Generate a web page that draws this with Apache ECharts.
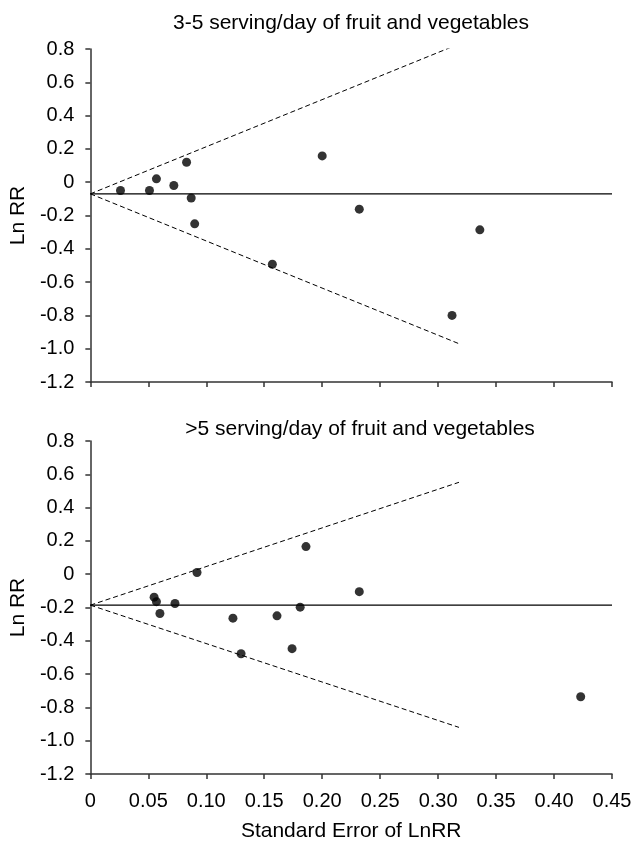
<!DOCTYPE html>
<html>
<head>
<meta charset="utf-8">
<script src="https://cdn.jsdelivr.net/npm/echarts@6/dist/echarts.min.js"></script>
<style>html,body{margin:0;padding:0;background:#fff}#c{width:635px;height:844px}</style>
</head>
<body>
<div id="c"></div>
<script>
// Panel titles
var panelTitles = ['3-5 serving/day of fruit and vegetables', '>5 serving/day of fruit and vegetables'];
// Axis ticks
var yTicks = [-1.2, -1.0, -0.8, -0.6, -0.4, -0.2, 0, 0.2, 0.4, 0.6, 0.8];
var xTicks = [0, 0.05, 0.10, 0.15, 0.20, 0.25, 0.30, 0.35, 0.40, 0.45];
// Top panel (3-5 servings/day)
var topSE = [0.026, 0.051, 0.057, 0.072, 0.083, 0.087, 0.090, 0.157, 0.200, 0.232, 0.312, 0.336];
var topLnRR = [-0.05, -0.05, 0.02, -0.02, 0.12, -0.095, -0.25, -0.493, 0.158, -0.162, -0.80, -0.286];
var topPooled = -0.07;
var topUpperEnd = 0.83;
var topLowerEnd = -0.97;
// Bottom panel (>5 servings/day)
var botSE = [0.055, 0.057, 0.060, 0.073, 0.092, 0.123, 0.130, 0.161, 0.174, 0.181, 0.186, 0.232, 0.423];
var botLnRR = [-0.138, -0.165, -0.236, -0.176, 0.01, -0.264, -0.478, -0.25, -0.447, -0.198, 0.166, -0.105, -0.736];
var botPooled = -0.186;
var botUpperEnd = 0.552;
var botLowerEnd = -0.92;
// Funnel end (SE)
var funnelSE = 0.318;

var FONT = 'Liberation Sans';

function pairs(xs, ys) { return xs.map(function (x, i) { return [x, ys[i]]; }); }

function yAxisCfg(idx) {
  return {
    type: 'value', gridIndex: idx,
    min: yTicks[0], max: yTicks[yTicks.length - 1], interval: 0.2,
    name: 'Ln RR', nameLocation: 'middle', nameRotate: 90, nameGap: 60,
    nameTextStyle: { fontFamily: FONT, fontSize: 21, color: '#000' },
    axisLine: { show: true, lineStyle: { color: '#333', width: 1.5 } },
    axisTick: { show: true, inside: false, length: 5, lineStyle: { color: '#333', width: 1.5 } },
    axisLabel: { margin: 16, fontFamily: FONT, fontSize: 20, color: '#000',
      formatter: function (v) { return Math.abs(v) < 1e-9 ? '0' : v.toFixed(1); } },
    splitLine: { show: false }
  };
}
function xAxisCfg(idx, showLabels) {
  var c = {
    type: 'value', gridIndex: idx,
    min: xTicks[0], max: xTicks[xTicks.length - 1], interval: 0.05,
    axisLine: { show: true, onZero: false, lineStyle: { color: '#333', width: 1.5 } },
    axisTick: { show: true, length: 5, lineStyle: { color: '#333', width: 1.5 } },
    axisLabel: { show: showLabels, margin: 17, fontFamily: FONT, fontSize: 20, color: '#000',
      formatter: function (v) { return Math.abs(v) < 1e-9 ? '0' : v.toFixed(2); } },
    splitLine: { show: false }
  };
  if (showLabels) {
    c.name = 'Standard Error of LnRR';
    c.nameLocation = 'middle';
    c.nameGap = 47;
    c.nameTextStyle = { fontFamily: FONT, fontSize: 21, color: '#000' };
  }
  return c;
}
function lineSeries(idx, data, dashed) {
  return {
    type: 'line', xAxisIndex: idx, yAxisIndex: idx, data: data,
    symbol: 'none', silent: true, animation: false,
    lineStyle: { color: '#000', width: dashed ? 1 : 1.4, type: dashed ? [5, 3] : 'solid' }
  };
}
function scatterSeries(idx, data) {
  return {
    type: 'scatter', xAxisIndex: idx, yAxisIndex: idx, data: data,
    symbol: 'circle', symbolSize: 9, animation: false,
    itemStyle: { color: '#000' }, z: 5
  };
}

var chart = echarts.init(document.getElementById('c'), null, { renderer: 'canvas' });
chart.setOption({
  animation: false,
  backgroundColor: '#fff',
  title: [
    { text: panelTitles[0], left: 346, top: 8, textAlign: 'center',
      textStyle: { fontFamily: FONT, fontSize: 21, fontWeight: 'normal', color: '#000' } },
    { text: panelTitles[1], left: 355, top: 414, textAlign: 'center',
      textStyle: { fontFamily: FONT, fontSize: 21, fontWeight: 'normal', color: '#000' } }
  ],
  grid: [
    { left: 90, right: 23, top: 49, height: 333 },
    { left: 90, right: 23, top: 441, height: 333 }
  ],
  xAxis: [xAxisCfg(0, false), xAxisCfg(1, true)],
  yAxis: [yAxisCfg(0), yAxisCfg(1)],
  series: [
    lineSeries(0, [[xTicks[0], topPooled], [xTicks[xTicks.length - 1], topPooled]], false),
    lineSeries(0, [[0, topPooled], [funnelSE, topUpperEnd]], true),
    lineSeries(0, [[0, topPooled], [funnelSE, topLowerEnd]], true),
    scatterSeries(0, pairs(topSE, topLnRR)),
    lineSeries(1, [[xTicks[0], botPooled], [xTicks[xTicks.length - 1], botPooled]], false),
    lineSeries(1, [[0, botPooled], [funnelSE, botUpperEnd]], true),
    lineSeries(1, [[0, botPooled], [funnelSE, botLowerEnd]], true),
    scatterSeries(1, pairs(botSE, botLnRR))
  ]
});
</script>
</body>
</html>
